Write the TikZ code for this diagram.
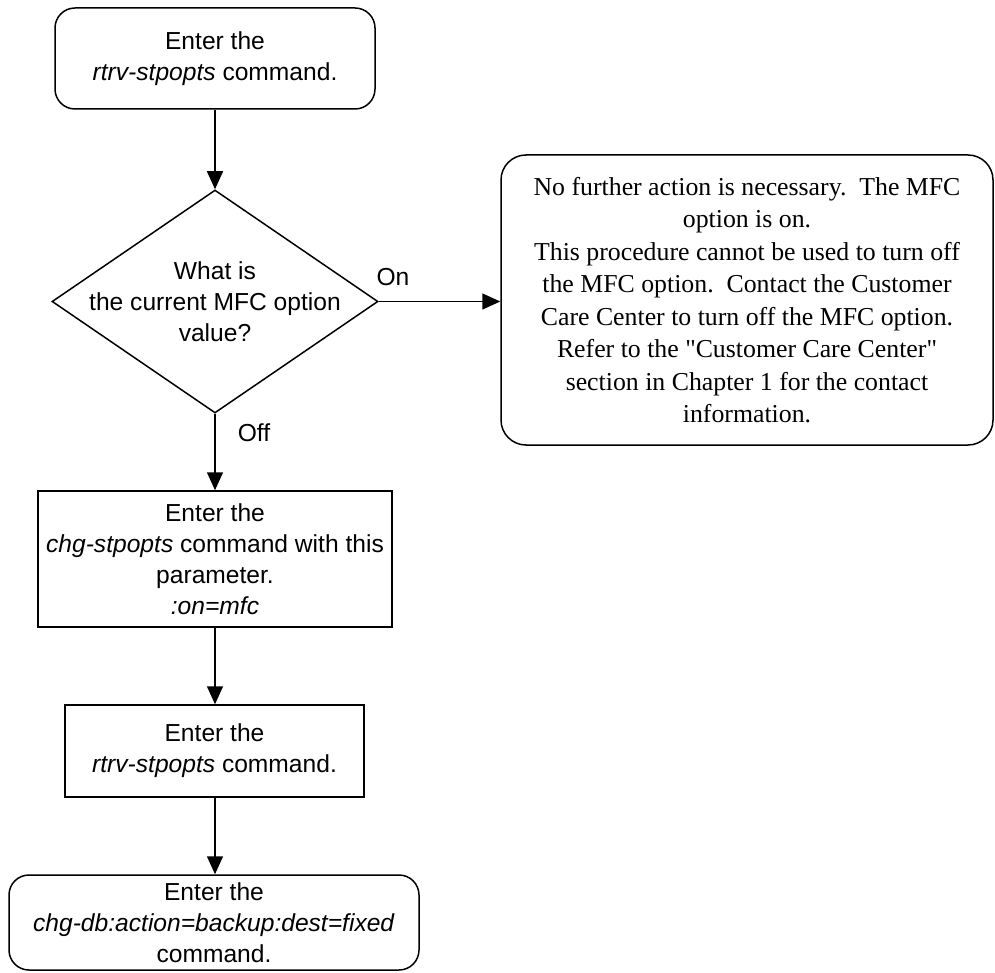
\documentclass[tikz,border=0pt]{standalone}
\usepackage{fontspec}
\setmainfont{Liberation Sans}
\newfontfamily\serifface{Liberation Serif}
\usetikzlibrary{shapes.geometric,arrows.meta}
\tikzset{
  base/.style={draw, line width=1.5pt, inner sep=0pt, align=center, font=\fontsize{24.6}{31}\selectfont},
  procbox/.style={base, rectangle},
  roundbox/.style={base, rectangle, rounded corners=20pt},
  txt/.style={inner sep=0pt, align=center, font=\fontsize{24.6}{31}\selectfont},
  flow/.style={line width=1.5pt, -{Triangle[length=18pt,width=16pt]}},
}
\begin{document}
\begin{tikzpicture}[x=1pt,y=-1pt]
\useasboundingbox (0,0) rectangle (995,973);
\node[roundbox, minimum width=320pt, minimum height=101pt] (top) at (215,58.5)
  {Enter the\\\textit{rtrv-stpopts} command.};
\node[draw, line width=1.5pt, diamond, minimum width=326pt, minimum height=223pt, inner sep=0pt] (dia) at (215,301.5) {};
\node[txt] (diatxt) at (dia.center) {What is\\the current MFC option\\value?};
\node[roundbox, rounded corners=25pt, minimum width=492pt, minimum height=290pt,
  font=\serifface\fontsize{25.8}{32.5}\selectfont] (done) at (747,300)
  {No further action is necessary.\ \ The MFC\\option is on.\\This procedure cannot be used to turn off\\the MFC option.\ \ Contact the Customer\\Care Center to turn off the MFC option.\\Refer to the "Customer Care Center"\\section in Chapter 1 for the contact\\information.};
\node[procbox, minimum width=354pt, minimum height=136pt] (chg) at (215,559)
  {Enter the\\\textit{chg-stpopts} command with this\\parameter.\\\textit{:on=mfc}};
\node[procbox, minimum width=299pt, minimum height=92pt] (rtrv) at (214.5,751)
  {Enter the\\\textit{rtrv-stpopts} command.};
\node[roundbox, minimum width=410pt, minimum height=95pt] (db) at (214,922.5)
  {Enter the\\\textit{chg-db:action=backup:dest=fixed}\\command.};
\draw[flow] (top.south) -- (top.south |- dia.north);
\draw[flow] (dia.east) -- (done.west |- dia.east);
\node[txt] (on) at (393,277) {On};
\draw[flow] (dia.south) -- (dia.south |- chg.north);
\node[txt] (off) at (254,433) {Off};
\draw[flow] (chg.south -| dia.south) -- (dia.south |- rtrv.north);
\draw[flow] (rtrv.south -| dia.south) -- (dia.south |- db.north);
\end{tikzpicture}
\end{document}
